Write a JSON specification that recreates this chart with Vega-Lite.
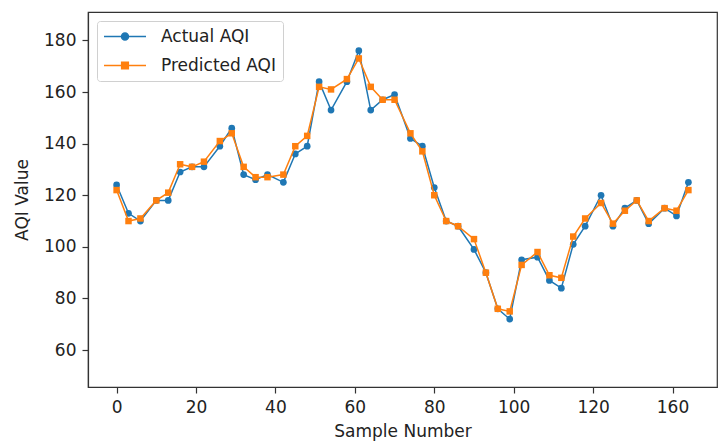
{
  "$schema": "https://vega.github.io/schema/vega-lite/v6.json",
  "width": 629,
  "height": 375,
  "autosize": {"type": "none"},
  "padding": {"left": 88, "top": 12, "right": 6, "bottom": 56},
  "background": "white",
  "data": {
    "values": [
      {"sample": 0, "series": "Actual AQI", "value": 124}, {"sample": 0, "series": "Predicted AQI", "value": 122},
      {"sample": 3, "series": "Actual AQI", "value": 113}, {"sample": 3, "series": "Predicted AQI", "value": 110},
      {"sample": 6, "series": "Actual AQI", "value": 110}, {"sample": 6, "series": "Predicted AQI", "value": 111},
      {"sample": 10, "series": "Actual AQI", "value": 118}, {"sample": 10, "series": "Predicted AQI", "value": 118},
      {"sample": 13, "series": "Actual AQI", "value": 118}, {"sample": 13, "series": "Predicted AQI", "value": 121},
      {"sample": 16, "series": "Actual AQI", "value": 129}, {"sample": 16, "series": "Predicted AQI", "value": 132},
      {"sample": 19, "series": "Actual AQI", "value": 131}, {"sample": 19, "series": "Predicted AQI", "value": 131},
      {"sample": 22, "series": "Actual AQI", "value": 131}, {"sample": 22, "series": "Predicted AQI", "value": 133},
      {"sample": 26, "series": "Actual AQI", "value": 139}, {"sample": 26, "series": "Predicted AQI", "value": 141},
      {"sample": 29, "series": "Actual AQI", "value": 146}, {"sample": 29, "series": "Predicted AQI", "value": 144},
      {"sample": 32, "series": "Actual AQI", "value": 128}, {"sample": 32, "series": "Predicted AQI", "value": 131},
      {"sample": 35, "series": "Actual AQI", "value": 126}, {"sample": 35, "series": "Predicted AQI", "value": 127},
      {"sample": 38, "series": "Actual AQI", "value": 128}, {"sample": 38, "series": "Predicted AQI", "value": 127},
      {"sample": 42, "series": "Actual AQI", "value": 125}, {"sample": 42, "series": "Predicted AQI", "value": 128},
      {"sample": 45, "series": "Actual AQI", "value": 136}, {"sample": 45, "series": "Predicted AQI", "value": 139},
      {"sample": 48, "series": "Actual AQI", "value": 139}, {"sample": 48, "series": "Predicted AQI", "value": 143},
      {"sample": 51, "series": "Actual AQI", "value": 164}, {"sample": 51, "series": "Predicted AQI", "value": 162},
      {"sample": 54, "series": "Actual AQI", "value": 153}, {"sample": 54, "series": "Predicted AQI", "value": 161},
      {"sample": 58, "series": "Actual AQI", "value": 164}, {"sample": 58, "series": "Predicted AQI", "value": 165},
      {"sample": 61, "series": "Actual AQI", "value": 176}, {"sample": 61, "series": "Predicted AQI", "value": 173},
      {"sample": 64, "series": "Actual AQI", "value": 153}, {"sample": 64, "series": "Predicted AQI", "value": 162},
      {"sample": 67, "series": "Actual AQI", "value": 157}, {"sample": 67, "series": "Predicted AQI", "value": 157},
      {"sample": 70, "series": "Actual AQI", "value": 159}, {"sample": 70, "series": "Predicted AQI", "value": 157},
      {"sample": 74, "series": "Actual AQI", "value": 142}, {"sample": 74, "series": "Predicted AQI", "value": 144},
      {"sample": 77, "series": "Actual AQI", "value": 139}, {"sample": 77, "series": "Predicted AQI", "value": 137},
      {"sample": 80, "series": "Actual AQI", "value": 123}, {"sample": 80, "series": "Predicted AQI", "value": 120},
      {"sample": 83, "series": "Actual AQI", "value": 110}, {"sample": 83, "series": "Predicted AQI", "value": 110},
      {"sample": 86, "series": "Actual AQI", "value": 108}, {"sample": 86, "series": "Predicted AQI", "value": 108},
      {"sample": 90, "series": "Actual AQI", "value": 99}, {"sample": 90, "series": "Predicted AQI", "value": 103},
      {"sample": 93, "series": "Actual AQI", "value": 90}, {"sample": 93, "series": "Predicted AQI", "value": 90},
      {"sample": 96, "series": "Actual AQI", "value": 76}, {"sample": 96, "series": "Predicted AQI", "value": 76},
      {"sample": 99, "series": "Actual AQI", "value": 72}, {"sample": 99, "series": "Predicted AQI", "value": 75},
      {"sample": 102, "series": "Actual AQI", "value": 95}, {"sample": 102, "series": "Predicted AQI", "value": 93},
      {"sample": 106, "series": "Actual AQI", "value": 96}, {"sample": 106, "series": "Predicted AQI", "value": 98},
      {"sample": 109, "series": "Actual AQI", "value": 87}, {"sample": 109, "series": "Predicted AQI", "value": 89},
      {"sample": 112, "series": "Actual AQI", "value": 84}, {"sample": 112, "series": "Predicted AQI", "value": 88},
      {"sample": 115, "series": "Actual AQI", "value": 101}, {"sample": 115, "series": "Predicted AQI", "value": 104},
      {"sample": 118, "series": "Actual AQI", "value": 108}, {"sample": 118, "series": "Predicted AQI", "value": 111},
      {"sample": 122, "series": "Actual AQI", "value": 120}, {"sample": 122, "series": "Predicted AQI", "value": 117},
      {"sample": 125, "series": "Actual AQI", "value": 108}, {"sample": 125, "series": "Predicted AQI", "value": 109},
      {"sample": 128, "series": "Actual AQI", "value": 115}, {"sample": 128, "series": "Predicted AQI", "value": 114},
      {"sample": 131, "series": "Actual AQI", "value": 118}, {"sample": 131, "series": "Predicted AQI", "value": 118},
      {"sample": 134, "series": "Actual AQI", "value": 109}, {"sample": 134, "series": "Predicted AQI", "value": 110},
      {"sample": 138, "series": "Actual AQI", "value": 115}, {"sample": 138, "series": "Predicted AQI", "value": 115},
      {"sample": 141, "series": "Actual AQI", "value": 112}, {"sample": 141, "series": "Predicted AQI", "value": 114},
      {"sample": 144, "series": "Actual AQI", "value": 125}, {"sample": 144, "series": "Predicted AQI", "value": 122}
    ]
  },
  "encoding": {
    "x": {
      "field": "sample",
      "type": "quantitative",
      "scale": {"domain": [-7.2, 151.2], "nice": false, "zero": false},
      "axis": {
        "title": "Sample Number",
        "values": [0, 20, 40, 60, 80, 100, 120, 140],
        "labelExpr": "datum.value === 140 ? '160' : datum.label",
        "labelFlush": false,
        "labelOverlap": false,
        "titlePadding": 8
      }
    },
    "y": {
      "field": "value",
      "type": "quantitative",
      "scale": {"domain": [45.7, 191], "nice": false, "zero": false},
      "axis": {
        "title": "AQI Value",
        "values": [60, 80, 100, 120, 140, 160, 180],
        "labelFlush": false,
        "labelOverlap": false,
        "titlePadding": 12
      }
    },
    "color": {
      "field": "series",
      "type": "nominal",
      "scale": {"domain": ["Actual AQI", "Predicted AQI"], "range": ["#1f77b4", "#ff7f0e"]},
      "legend": {
        "title": null,
        "orient": "top-left",
        "offset": 9,
        "padding": 7,
        "strokeColor": "#d0d0d0",
        "fillColor": "rgba(255,255,255,0.85)",
        "cornerRadius": 3,
        "labelFont": "DejaVu Sans",
        "labelFontSize": 17,
        "labelColor": "#222222",
        "labelOffset": 40,
        "rowPadding": 11,
        "symbolSize": 49,
        "symbolStrokeWidth": 1.5,
        "symbolOpacity": 1,
        "encode": {
          "symbols": {
            "update": {
              "x": {"value": 21},
              "shape": {"signal": "datum.value === 'Actual AQI' ? 'M-6,0H6M-1,0A1,1,0,1,1,1,0A1,1,0,1,1,-1,0Z' : 'M-6,0H6M-0.95,-0.95H0.95V0.95H-0.95Z'"},
              "fill": {"signal": "datum.value === 'Actual AQI' ? '#1f77b4' : '#ff7f0e'"},
              "stroke": {"signal": "datum.value === 'Actual AQI' ? '#1f77b4' : '#ff7f0e'"},
              "strokeWidth": {"value": 1.5},
              "opacity": {"value": 1}
            }
          }
        }
      }
    }
  },
  "layer": [
    {
      "transform": [{"filter": "datum.series === 'Actual AQI'"}],
      "mark": {"type": "line", "strokeWidth": 1.5}
    },
    {
      "transform": [{"filter": "datum.series === 'Actual AQI'"}],
      "mark": {"type": "point", "filled": true, "shape": "circle", "size": 45, "opacity": 1}
    },
    {
      "transform": [{"filter": "datum.series === 'Predicted AQI'"}],
      "mark": {"type": "line", "strokeWidth": 1.5}
    },
    {
      "transform": [{"filter": "datum.series === 'Predicted AQI'"}],
      "mark": {"type": "point", "filled": true, "shape": "square", "size": 42, "opacity": 1}
    }
  ],
  "config": {
    "view": {"stroke": "#333333", "strokeWidth": 1.2},
    "axis": {
      "domainColor": "#333333",
      "domainWidth": 1.2,
      "tickColor": "#333333",
      "tickWidth": 1.2,
      "tickSize": 6,
      "labelPadding": 6,
      "labelColor": "#222222",
      "titleColor": "#222222",
      "labelFont": "DejaVu Sans",
      "titleFont": "DejaVu Sans",
      "labelFontSize": 17,
      "titleFontSize": 17,
      "titleFontWeight": "normal",
      "grid": false
    }
  }
}
